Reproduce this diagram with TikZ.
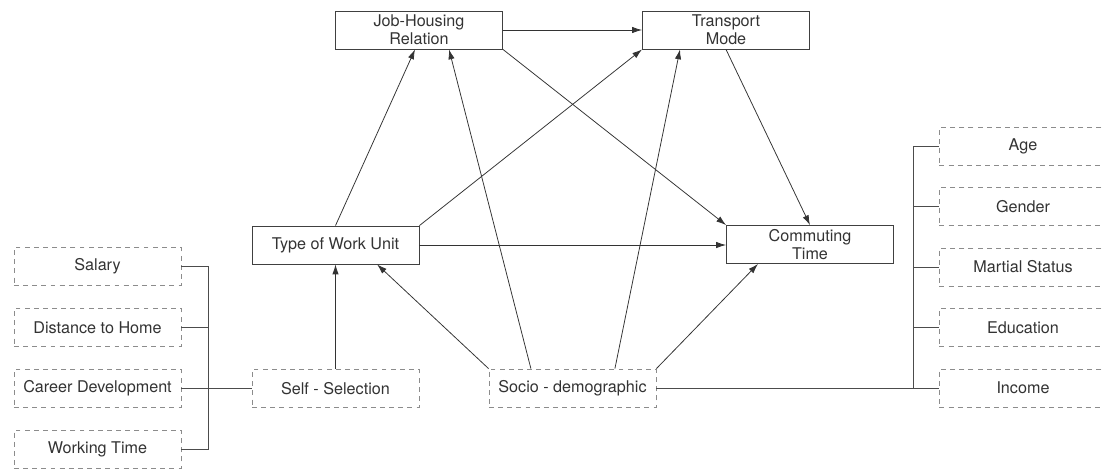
\documentclass[tikz,border=0pt]{standalone}
\usepackage{fontspec}
\setmainfont{TeX Gyre Heros}
\usetikzlibrary{arrows.meta}
\tikzset{
  factor/.style={draw=black!75, line width=0.6pt, minimum width=4.175cm, minimum height=0.95cm,
    inner sep=0pt, align=center, text=black!80, font=\fontsize{11.5}{12.5}\selectfont},
  item/.style={factor, draw=black!45, dash pattern=on 3.5pt off 3pt},
  link/.style={draw=black!80, line width=0.55pt, -{Latex[length=7pt,width=4.5pt]}},
  tie/.style={draw=black!70, line width=0.6pt}
}
\begin{document}
\begin{tikzpicture}[x=0.025cm,y=-0.025cm]
      \useasboundingbox (0,0) rectangle (1103,469);
      \clip (0,0) rectangle (1103,469);
      \draw
        (419,30) node[factor] (jh){Job-Housing\\Relation}
        (726,30) node[factor] (tm){Transport\\Mode}
        (335.5,245) node[factor] (tw){Type of Work Unit}
        (810,244.5) node[factor] (ct){Commuting\\Time}
        (335.5,388.5) node[item] (ss){Self - Selection}
        (572.5,388) node[item] (sd){Socio - demographic}
        (97.5,266.5) node[item] (sal){Salary}
        (97.5,327.5) node[item] (dist){Distance to Home}
        (97.5,388.5) node[item] (car){Career Development}
        (97.5,449) node[item] (wt){Working Time}
        (1023,146.5) node[item] (age){Age}
        (1023,206.5) node[item] (gen){Gender}
        (1023,267) node[item] (ms){Martial Status}
        (1023,327.5) node[item] (edu){Education}
        (1023,388) node[item] (inc){Income};
      \coordinate (lt) at (208,266.5);
      \coordinate (lb) at (208,449);
      \coordinate (rt) at (913,146.5);
      \coordinate (rb) at (913,388);
      \begin{scope}[link]
        \draw (jh) to (tm);
        \draw (jh.south east) to (ct.north west);
        \draw (tw.north) to ([xshift=-0.1cm]jh.south);
        \draw (tw.north east) to (tm.south west);
        \draw (tw.east) to (tw.east -| ct.west);
        \draw (tm.south) to (ct.north);
        \draw (ss) to (tw);
        \draw (sd.north west) to ([xshift=1.04cm]tw.south);
        \draw ([xshift=-1.04cm]sd.north) to ([xshift=0.75cm]jh.south);
        \draw ([xshift=1.06cm]sd.north) to ([xshift=-1.15cm]tm.south);
        \draw (sd.north east) to ([xshift=-1.3cm]ct.south);
      \end{scope}
      \begin{scope}[tie]
        \draw (sal.east) -- (lt) -- (lb) -- (wt.east);
        \draw (dist.east) -- (dist.east -| lt);
        \draw (car.east) -- (ss.west);
        \draw (age.west) -- (rt) -- (rb);
        \draw (gen.west) -- (gen.west -| rt);
        \draw (ms.west) -- (ms.west -| rt);
        \draw (edu.west) -- (edu.west -| rt);
        \draw (sd.east) -- (inc.west);
      \end{scope}
    \end{tikzpicture}
\end{document}
